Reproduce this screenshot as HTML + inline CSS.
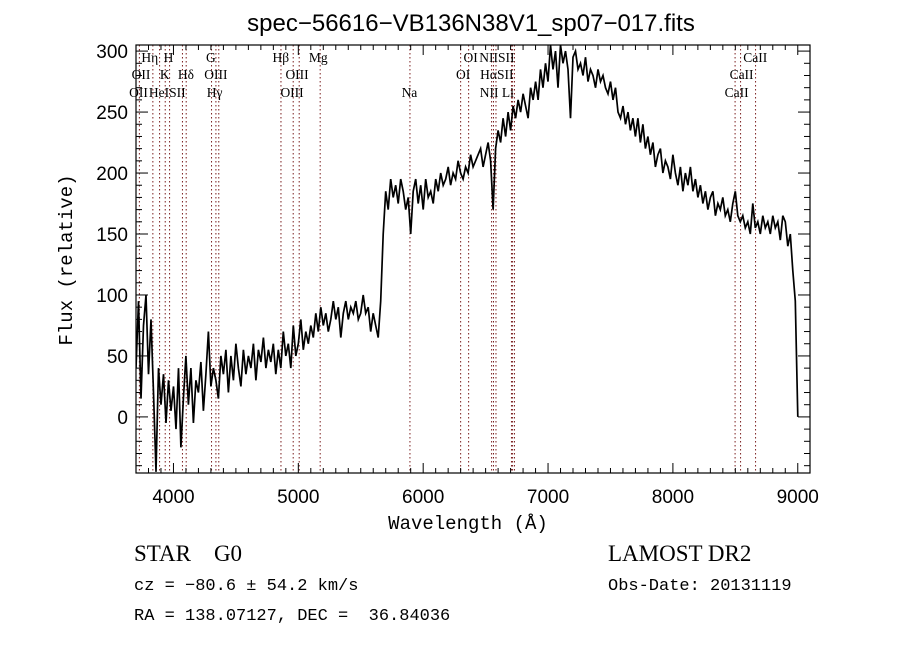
<!DOCTYPE html>
<html><head><meta charset="utf-8"><style>
body{margin:0;background:#fff;}
svg{display:block;}
text{font-family:"Liberation Sans",sans-serif;fill:#000;white-space:pre;}
.ser{font-family:"Liberation Serif",serif;}
.mono{font-family:"Liberation Mono",monospace;}
</style></head><body>
<svg id="chart" width="900" height="649" xmlns="http://www.w3.org/2000/svg">
<rect width="900" height="649" fill="#fff"/>
<text x="471" y="31" font-size="24" text-anchor="middle">spec−56616−VB136N38V1_sp07−017.fits</text>
<text x="468" y="529" font-size="19" text-anchor="middle" class="mono">Wavelength (Å)</text>
<text transform="translate(72,260) rotate(-90)" font-size="19" text-anchor="middle" class="mono">Flux (relative)</text>
<text x="134" y="561" font-size="23" class="ser" xml:space="preserve">STAR    G0</text>
<text x="134" y="590" font-size="17" class="mono">cz = −80.6 ± 54.2 km/s</text>
<text x="134" y="620" font-size="17" class="mono" xml:space="preserve">RA = 138.07127, DEC =  36.84036</text>
<text x="608" y="561" font-size="23" class="ser">LAMOST DR2</text>
<text x="608" y="590" font-size="17" class="mono">Obs-Date: 20131119</text>
<g id="plot"></g>
</svg>
<script>
const wlStart = 3700, wlStep = 20;
const flux = [40,95,15,75,100,35,80,20,-45,40,
10,35,-5,30,5,25,-10,40,-25,15,50,10,40,-5,30,20,45,5,35,70,
25,40,30,15,50,35,55,20,50,30,60,40,25,55,35,50,40,60,30,55,
45,65,40,55,45,60,35,55,40,70,50,60,40,75,50,60,80,55,70,60,
75,65,85,70,90,75,85,70,80,95,80,90,65,85,95,80,90,85,95,80,
85,100,85,90,70,85,75,65,95,150,185,170,195,180,190,175,195,185,170,180,
150,185,195,175,190,170,195,180,185,175,195,185,200,190,195,205,190,200,195,210,
200,195,205,200,215,205,210,215,220,205,215,225,210,170,220,235,225,245,230,250,
235,255,245,260,250,265,255,245,270,260,275,260,285,270,290,275,305,285,300,270,
305,290,300,285,245,295,300,285,290,280,295,275,285,280,270,285,275,280,270,265,
275,260,270,250,245,255,240,250,235,245,230,245,225,240,220,230,215,225,205,215,
220,200,210,205,195,215,200,190,205,185,200,190,205,185,195,180,190,175,185,170,
180,185,165,175,170,180,165,170,160,175,185,165,160,165,155,160,150,175,155,160,
150,165,155,160,150,165,155,160,145,165,160,140,150,120,95,0];
const lineWl = [3727,3835,3889,3934,3969,4072,4102,4305,4340,4363,4861,4959,5007,5175,5894,6300,6364,6548,6563,6583,6707,6716,6731,8498,8542,8662];
const lineLabels = ["Hη","H","G","Hβ","Mg","OI","NIISII","CaII","OII","K","Hδ","OIII","OIII","OI","HαSII","CaII","OII","HeISII","Hγ","OIII","Na","NII Li","CaII"];
const labelRow = [0,0,0,0,0,0,0,0,1,1,1,1,1,1,1,1,2,2,2,2,2,2,2];
const labelWl = [3810,3960,4300,4860,5160,6380,6590,8660,3740,3930,4100,4340,4990,6320,6590,8550,3720,3950,4330,4950,5890,6590,8510];
const yTicks = [0,50,100,150,200,250,300];
const xTicks = [4000,5000,6000,7000,8000,9000];

const X0=136,X1=810,Y0=45,Y1=473, WMIN=3700,WMAX=9098,FMIN=-46,FMAX=305;
const xs = w => X0+(w-WMIN)/(WMAX-WMIN)*(X1-X0);
const ys = f => Y1-(f-FMIN)/(FMAX-FMIN)*(Y1-Y0);
const NS="http://www.w3.org/2000/svg";
const plot=document.getElementById('plot');
function mk(tag,attrs,parent){const e=document.createElementNS(NS,tag);for(const k in attrs)e.setAttribute(k,attrs[k]);(parent||plot).appendChild(e);return e;}

const clip=mk('clipPath',{id:'pc'});mk('rect',{x:X0,y:Y0,width:X1-X0,height:Y1-Y0},clip);

lineWl.forEach(w=>{
  const l=mk('line',{x1:xs(w),x2:xs(w),y1:Y0,y2:Y1,stroke:'#7a1e1e','stroke-width':1,'stroke-dasharray':'1.5,2.5'});
  
  
});
const rowY=[62,79,97];
lineLabels.forEach((t,i)=>{
  const e=mk('text',{x:xs(labelWl[i]),y:rowY[labelRow[i]],'font-size':13.5,'text-anchor':'middle',class:'ser'});
  e.textContent=t;
  
  
});

let d='';
flux.forEach((f,i)=>{d+=(i?'L':'M')+xs(wlStart+i*wlStep).toFixed(1)+','+ys(f).toFixed(1);});
const p=mk('path',{d:d,fill:'none',stroke:'#000','stroke-width':1.7,'stroke-linejoin':'miter','clip-path':'url(#pc)'});



const frame=mk('rect',{x:X0,y:Y0,width:X1-X0,height:Y1-Y0,fill:'none',stroke:'#000','stroke-width':1.2});



for(let w=3700;w<=9098;w+=100){
  const major=w%1000===0, len=major?10:5;
  mk('line',{x1:xs(w),x2:xs(w),y1:Y1,y2:Y1-len,stroke:'#000'});
  mk('line',{x1:xs(w),x2:xs(w),y1:Y0,y2:Y0+len,stroke:'#000'});
}
xTicks.forEach(w=>{
  const t=mk('text',{x:xs(w),y:Y1+30,'font-size':19,'text-anchor':'middle'});
  t.textContent=w;
  
  
});
for(let f=-40;f<=300;f+=10){
  const major=f%50===0, len=major?12:6;
  mk('line',{x1:X0,x2:X0+len,y1:ys(f),y2:ys(f),stroke:'#000'});
  mk('line',{x1:X1,x2:X1-len,y1:ys(f),y2:ys(f),stroke:'#000'});
}
yTicks.forEach(f=>{
  const t=mk('text',{x:X0-8,y:ys(f)+7,'font-size':19,'text-anchor':'end'});
  t.textContent=f;
  
  
});
</script>
</body></html>
